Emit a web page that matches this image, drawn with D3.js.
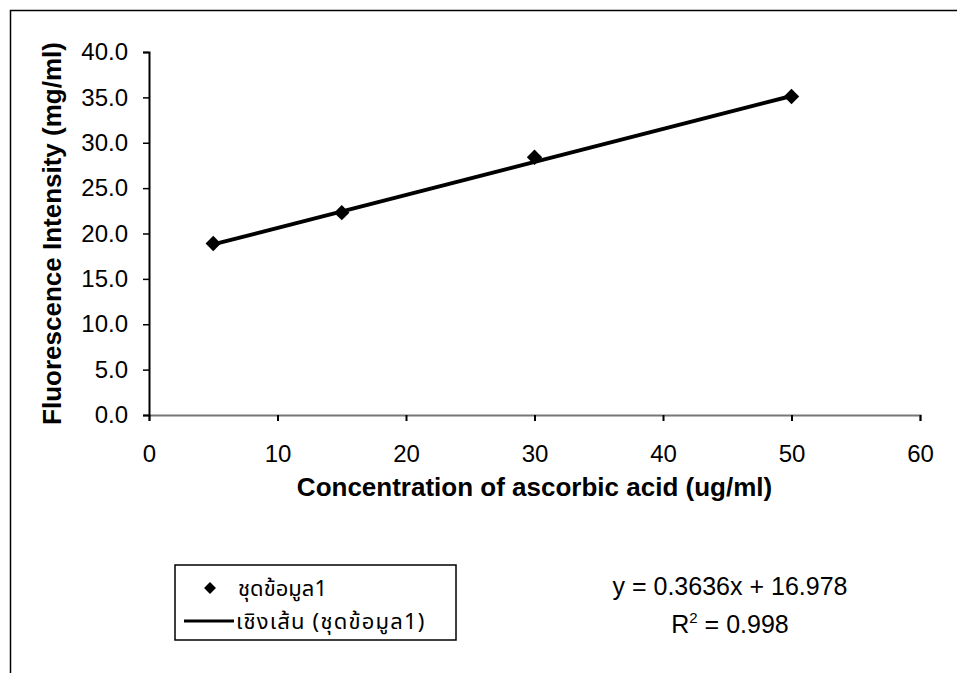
<!DOCTYPE html>
<html>
<head>
<meta charset="utf-8">
<script src="https://cdn.jsdelivr.net/npm/d3@7"></script>
<style>
  body { margin: 0; background: #fff; }
  text { font-family: Arial, "Liberation Sans", sans-serif; fill: #000; }
  .thai { font-family: Tahoma, "Noto Sans Thai", "Noto Sans", "DejaVu Sans", sans-serif; }
</style>
</head>
<body>
<svg id="chart" width="957" height="673"></svg>
<script>
const width = 957;
const height = 673;

// data
const concentration = [5, 15, 30, 50];
const intensity = [18.9, 22.3, 28.4, 35.1];
const slope = 0.3636;
const intercept = 16.978;
const equationLabel = "y = 0.3636x + 16.978";
const r2Value = "0.998";
const xTicks = [0, 10, 20, 30, 40, 50, 60];
const yTicks = [0, 5, 10, 15, 20, 25, 30, 35, 40];
const seriesName = "ชุดข้อมูล1";
const trendName = "เชิงเส้น (ชุดข้อมูล1)";

const svg = d3.select("#chart");

const x = d3.scaleLinear().domain([0, 60]).range([149, 920]);
const y = d3.scaleLinear().domain([0, 40]).range([415, 52]);

// outer frame
svg.append("rect")
    .attr("x", 10.5)
    .attr("y", 10.5)
    .attr("width", 980)
    .attr("height", 700)
    .attr("fill", "none")
    .attr("stroke", "#000")
    .attr("stroke-width", 1.5);

// x axis
const xAxis = svg.append("g")
    .attr("transform", `translate(0,${y(0)})`)
    .call(d3.axisBottom(x).tickValues(xTicks).tickSize(6).tickPadding(24).tickFormat(d3.format("d")));
xAxis.select(".domain").attr("stroke", "#777").attr("stroke-width", 2);
xAxis.selectAll(".tick line").attr("stroke", "#000").attr("stroke-width", 2);
xAxis.selectAll("text").attr("font-size", 24).attr("font-family", "Arial, 'Liberation Sans', sans-serif");

// y axis
const yAxis = svg.append("g")
    .attr("transform", `translate(${x(0)},0)`)
    .call(d3.axisLeft(y).tickValues(yTicks).tickSize(6).tickPadding(15).tickFormat(d3.format(".1f")));
yAxis.select(".domain").attr("stroke", "#000").attr("stroke-width", 2);
yAxis.selectAll(".tick line").attr("stroke", "#000").attr("stroke-width", 1.5);
yAxis.selectAll("text").attr("font-size", 24).attr("font-family", "Arial, 'Liberation Sans', sans-serif");

// axis titles
svg.append("text")
    .attr("x", (x(0) + x(60)) / 2)
    .attr("y", 496)
    .attr("text-anchor", "middle")
    .attr("font-size", 26)
    .attr("font-weight", "bold")
    .text("Concentration of ascorbic acid (ug/ml)");

svg.append("text")
    .attr("transform", `translate(61,${(y(0) + y(40)) / 2}) rotate(-90)`)
    .attr("text-anchor", "middle")
    .attr("font-size", 26)
    .attr("font-weight", "bold")
    .text("Fluorescence Intensity (mg/ml)");

// linear trend line
const xMin = d3.min(concentration), xMax = d3.max(concentration);
svg.append("line")
    .attr("x1", x(xMin)).attr("y1", y(slope * xMin + intercept))
    .attr("x2", x(xMax)).attr("y2", y(slope * xMax + intercept))
    .attr("stroke", "#000")
    .attr("stroke-width", 4);

// points
const diamond = d3.symbol().type(d3.symbolDiamond2).size(150);
svg.selectAll(".pt")
    .data(concentration.map((c, i) => [c, intensity[i]]))
    .enter().append("path")
    .attr("class", "pt")
    .attr("d", diamond)
    .attr("transform", d => `translate(${x(d[0])},${y(d[1])})`)
    .attr("fill", "#000");

// legend
const legend = svg.append("g");
legend.append("rect")
    .attr("x", 175).attr("y", 565)
    .attr("width", 281).attr("height", 75)
    .attr("fill", "none").attr("stroke", "#000").attr("stroke-width", 1.5);
legend.append("path")
    .attr("d", d3.symbol().type(d3.symbolDiamond2).size(90))
    .attr("transform", "translate(210,588)")
    .attr("fill", "#000");
legend.append("text")
    .attr("class", "thai")
    .attr("x", 238).attr("y", 596)
    .attr("font-size", 22)
    .text(seriesName);
legend.append("line")
    .attr("x1", 184).attr("x2", 234)
    .attr("y1", 621).attr("y2", 621)
    .attr("stroke", "#000").attr("stroke-width", 3);
legend.append("text")
    .attr("class", "thai")
    .attr("x", 236).attr("y", 629)
    .attr("font-size", 22)
    .attr("letter-spacing", 1.2)
    .text(trendName);

// equation
svg.append("text")
    .attr("x", 730).attr("y", 595)
    .attr("text-anchor", "middle")
    .attr("font-size", 25)
    .text(equationLabel);
const r2 = svg.append("text")
    .attr("x", 730).attr("y", 633)
    .attr("text-anchor", "middle")
    .attr("font-size", 25);
r2.append("tspan").text("R");
r2.append("tspan").attr("dy", -10).attr("font-size", 15).text("2");
r2.append("tspan").attr("dy", 10).text(" = " + r2Value);
</script>
</body>
</html>
